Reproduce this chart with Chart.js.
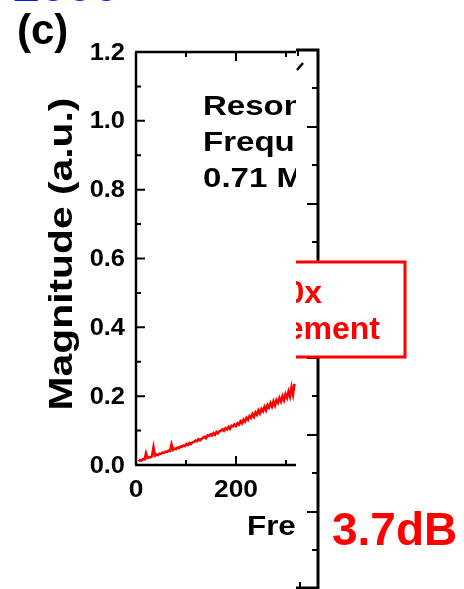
<!DOCTYPE html>
<html>
<head>
<meta charset="utf-8">
<script src="https://cdn.jsdelivr.net/npm/chart.js@4.4.0/dist/chart.umd.min.js"></script>
<style>
  html, body { margin: 0; padding: 0; background: #fff; }
  #wrap { width: 464px; height: 589px; }
</style>
</head>
<body>
<div id="wrap"><canvas id="magChart" width="464" height="589"></canvas></div>
<script>
const freq = [
  5, 8, 11, 14, 17, 20, 23, 26, 29, 32,
  35, 38, 41, 44, 47, 50, 53, 56, 59, 62,
  65, 68, 71, 74, 77, 80, 83, 86, 89, 92,
  95, 98, 101, 104, 107, 110, 113, 116, 119, 122,
  125, 128, 131, 134, 137, 140, 143, 146, 149, 152,
  155, 158, 161, 164, 167, 170, 173, 176, 179, 182,
  185, 188, 191, 194, 197, 200, 203, 206, 209, 212,
  215, 218, 221, 224, 227, 230, 233, 236, 239, 242,
  245, 248, 251, 254, 257, 260, 263, 266, 269, 272,
  275, 278, 281, 284, 287, 290, 293, 296, 299, 302,
  305, 308, 311, 314, 317
];
const magnitude = [
  0.011, 0.014, 0.013, 0.017, 0.016, 0.034, 0.020, 0.023, 0.022, 0.026,
  0.052, 0.027, 0.030, 0.029, 0.033, 0.032, 0.036, 0.035, 0.039, 0.038,
  0.042, 0.041, 0.060, 0.044, 0.048, 0.046, 0.051, 0.049, 0.054, 0.053,
  0.057, 0.055, 0.061, 0.058, 0.064, 0.061, 0.066, 0.067, 0.071, 0.069,
  0.075, 0.071, 0.076, 0.079, 0.082, 0.078, 0.086, 0.084, 0.089, 0.086,
  0.093, 0.088, 0.096, 0.092, 0.098, 0.100, 0.104, 0.099, 0.107, 0.103,
  0.111, 0.105, 0.114, 0.112, 0.118, 0.113, 0.121, 0.117, 0.127, 0.121,
  0.132, 0.126, 0.137, 0.131, 0.142, 0.137, 0.148, 0.140, 0.153, 0.146,
  0.159, 0.150, 0.163, 0.156, 0.169, 0.159, 0.174, 0.167, 0.180, 0.170,
  0.185, 0.173, 0.189, 0.181, 0.195, 0.184, 0.200, 0.188, 0.206, 0.195,
  0.214, 0.199, 0.226, 0.205, 0.236
];
const yTicks = [0, 0.1, 0.2, 0.3, 0.4, 0.5, 0.6, 0.7, 0.8, 0.9, 1.0, 1.1, 1.2];
const xTicks = [100, 200, 300];
const noteLines = ['Resonance', 'Frequency', '0.71 MHz'];
const boxLines = ['100x', 'Enhancement'];
// ticks of the neighbouring panel's axis that shows at the right edge
const sideTicks = [88, 127, 165, 204, 242, 281, 319, 358, 396, 435, 473, 512, 550];

const FONT = '"Liberation Sans", Arial, sans-serif';
Chart.defaults.font.family = FONT;
Chart.defaults.color = '#000';

// bold text, stretched sideways like the original figure's lettering
function wideText(ctx, text, x, y, size, sx, align, rot) {
  ctx.save();
  ctx.translate(x, y);
  if (rot) ctx.rotate(rot);
  ctx.scale(sx, 1);
  ctx.font = 'bold ' + size + 'px ' + FONT;
  ctx.textAlign = align || 'left';
  ctx.fillText(text, 0, 0);
  ctx.restore();
}

const frame = {
  id: 'frame',
  afterDraw(chart) {
    const { ctx, chartArea: a, scales: { x, y } } = chart;
    ctx.save();

    // panel (c), cut at the plot's right edge
    ctx.save();
    ctx.beginPath();
    ctx.rect(0, 0, a.right, chart.height);
    ctx.clip();
    ctx.strokeStyle = '#000';
    ctx.lineWidth = 2.5;
    ctx.beginPath();
    ctx.moveTo(a.left, a.top); ctx.lineTo(a.left, a.bottom);
    ctx.moveTo(a.left - 1, a.bottom); ctx.lineTo(a.right, a.bottom);
    ctx.moveTo(a.left - 1, a.top); ctx.lineTo(a.right + 8, a.top);
    ctx.stroke();
    ctx.lineWidth = 2;
    ctx.beginPath();
    yTicks.forEach((v, i) => {
      const py = y.getPixelForValue(v);
      const len = i % 2 === 0 ? 9 : 5;
      ctx.moveTo(a.left, py); ctx.lineTo(a.left + len, py);
    });
    xTicks.forEach(v => {
      const px = x.getPixelForValue(v);
      const len = v % 200 === 0 ? 9 : 5;
      ctx.moveTo(px, a.bottom); ctx.lineTo(px, a.bottom - len);
      ctx.moveTo(px, a.top); ctx.lineTo(px, a.top + len);
    });
    ctx.stroke();

    ctx.fillStyle = '#000';
    ctx.textBaseline = 'middle';
    y.ticks.forEach(t => {
      wideText(ctx, t.value.toFixed(1), 125, y.getPixelForValue(t.value) + 1, 24, 1.06, 'right');
    });
    ctx.textBaseline = 'alphabetic';
    x.ticks.forEach(t => {
      if (t.value % 200 !== 0) return;
      wideText(ctx, String(t.value), x.getPixelForValue(t.value), 497, 24, 1.1, 'center');
    });

    noteLines.forEach((t, i) => wideText(ctx, t, 203, 115 + i * 36, 28, 1.18));
    wideText(ctx, 'Frequency (Hz)', 247, 535, 28, 1.12);

    ctx.textBaseline = 'middle';
    wideText(ctx, 'Magnitude (a.u.)', 63, 254, 34, 1.2, 'center', -Math.PI / 2);
    ctx.textBaseline = 'alphabetic';

    wideText(ctx, '(c)', 17, 44, 42, 1.0);
    ctx.fillStyle = '#0a14f0';
    wideText(ctx, '2000', 13, 1, 48, 1.0);
    ctx.restore();

    // neighbouring panel, right of the cut
    ctx.save();
    ctx.beginPath();
    ctx.rect(a.right, 0, chart.width - a.right, chart.height);
    ctx.clip();
    ctx.strokeStyle = '#000';
    ctx.lineWidth = 3;
    ctx.beginPath();
    ctx.moveTo(318, 49); ctx.lineTo(318, chart.height);
    ctx.moveTo(296, 50); ctx.lineTo(319.5, 50);
    ctx.moveTo(296, 588); ctx.lineTo(318, 588);
    ctx.stroke();
    ctx.lineWidth = 2;
    ctx.beginPath();
    sideTicks.forEach((py, i) => {
      const len = i % 2 === 1 ? 11 : 6;
      ctx.moveTo(318, py); ctx.lineTo(318 - len, py);
    });
    ctx.moveTo(300, 588); ctx.lineTo(300, 582);
    ctx.moveTo(298, 51); ctx.lineTo(298, 56);
    ctx.stroke();
    ctx.lineWidth = 2.5;
    ctx.beginPath();
    ctx.moveTo(297, 70); ctx.lineTo(303, 63);
    ctx.stroke();

    ctx.fillStyle = '#fff';
    ctx.fillRect(200, 262, 205, 95);
    ctx.strokeStyle = '#ff0000';
    ctx.lineWidth = 3;
    ctx.strokeRect(200, 262, 205, 95);
    ctx.fillStyle = '#ff0000';
    ctx.textBaseline = 'middle';
    wideText(ctx, boxLines[0], 322, 294, 32, 1.0, 'right');
    wideText(ctx, boxLines[1], 380, 330, 32, 1.0, 'right');
    ctx.textBaseline = 'alphabetic';
    wideText(ctx, '3.7dB', 332, 545, 46, 1.0);
    ctx.restore();

    ctx.restore();
  }
};

const data = {
  datasets: [{
    data: freq.map((f, i) => ({ x: f, y: magnitude[i] })),
    borderColor: '#ff0000',
    borderWidth: 2.5,
    pointRadius: 0,
    tension: 0,
    fill: false
  }]
};

const config = {
  type: 'line',
  data: data,
  options: {
    responsive: false,
    animation: false,
    devicePixelRatio: 1,
    layout: { padding: { left: 0, top: 52, right: 168, bottom: 0 } },
    plugins: { legend: { display: false }, tooltip: { enabled: false } },
    scales: {
      x: {
        type: 'linear',
        min: 0,
        max: 320,
        grid: { display: false, drawTicks: false },
        border: { display: false },
        afterFit: (scale) => { scale.height = 124; },
        ticks: { display: false, stepSize: 200 }
      },
      y: {
        min: 0,
        max: 1.2,
        grid: { display: false, drawTicks: false },
        border: { display: false },
        afterFit: (scale) => { scale.width = 136; },
        ticks: { display: false, stepSize: 0.2 }
      }
    }
  },
  plugins: [frame]
};

const magChart = new Chart(document.getElementById('magChart'), config);
</script>
</body>
</html>
